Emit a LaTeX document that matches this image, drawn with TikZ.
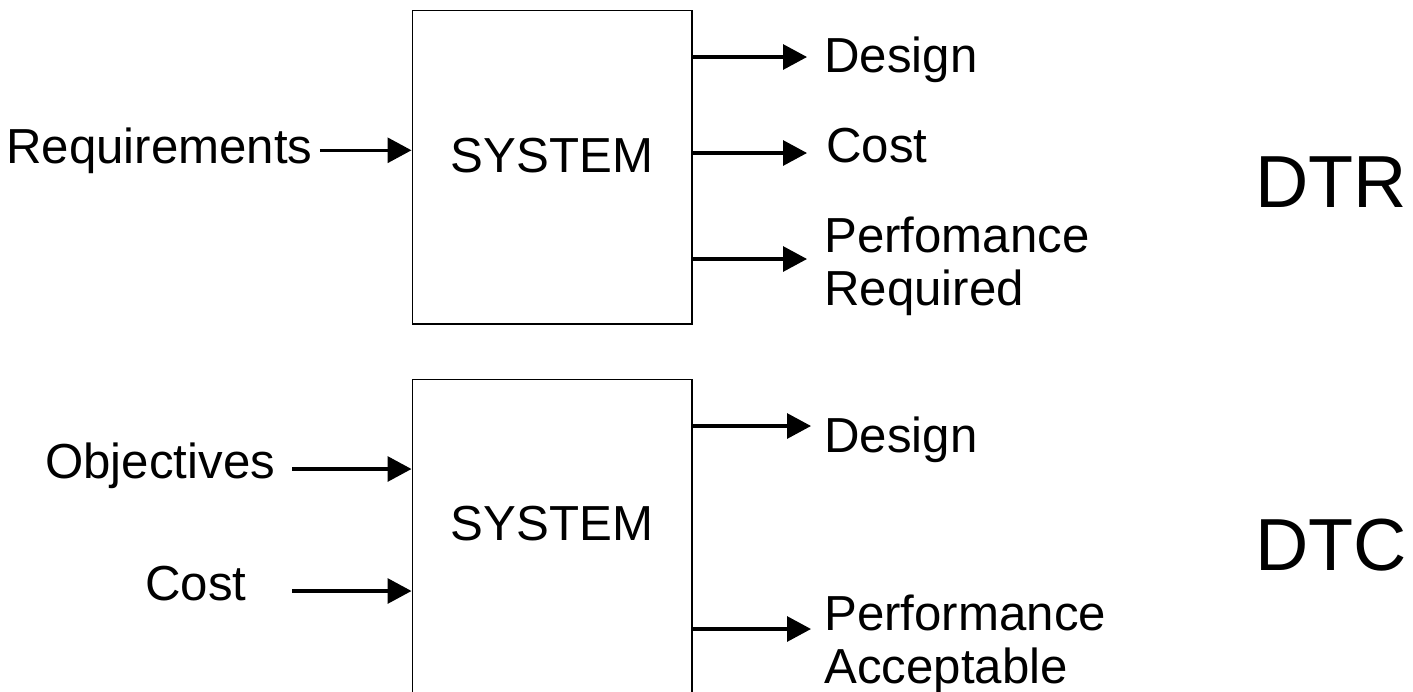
\documentclass[tikz,border=0pt]{standalone}
\usepackage{fontspec}
\setmainfont{Liberation Sans}
\usetikzlibrary{arrows.meta}

\tikzset{
  sysbox/.style={draw,line width=0.6pt,minimum width=5.6cm,minimum height=6.28cm,inner sep=0},
  lbl/.style={inner sep=0,font=\fontsize{28}{30}\selectfont},
  big/.style={inner sep=0,font=\fontsize{42}{48}\selectfont},
  arr/.style={line width=1.8pt,-{Triangle[length=0.48cm,width=0.5cm]}}
}

\begin{document}
\begin{tikzpicture}[x=0.02cm,y=-0.02cm]
        \useasboundingbox (0,0) rectangle (1413,691);
        \node[sysbox] (sys1) at (552,167) {};
        \node[sysbox] (sys2) at (552,536) {};
        \node[lbl,anchor=base] (name1) at ([yshift=-0.1cm]sys1.center) {SYSTEM};
        \node[lbl,anchor=base] (name2) at ([yshift=-0.08cm]sys2.center) {SYSTEM};

        %inputs
        \node[lbl,anchor=base west] (req) at (6,163) {Requirements};
        \node[lbl,anchor=base west] (obj) at (45,478) {Objectives};
        \node[lbl,anchor=base west] (costin) at (145,600) {Cost};
        \coordinate (objtail) at (292,469);
        \coordinate (costtail) at (292,591);
        \draw[arr] ([xshift=0.14cm]req.east) -- (req.east -| sys1.west);
        \draw[arr] (objtail) -- (objtail -| sys2.west);
        \draw[arr] (costtail) -- (costtail -| sys2.west);

        %outputs DTR
        \coordinate (dtip1) at (807,57);
        \coordinate (ctip1) at (807,153);
        \coordinate (ptip1) at (807,259);
        \draw[arr] (dtip1 -| sys1.east) -- (dtip1);
        \draw[arr] (ctip1 -| sys1.east) -- (ctip1);
        \draw[arr] (ptip1 -| sys1.east) -- (ptip1);
        \node[lbl,anchor=base west] (dsg1) at (824,72) {Design};
        \node[lbl,anchor=base west] (cst1) at (826,162) {Cost};
        \node[lbl,anchor=west,align=left] (prf1) at (824,266) {Perfomance\\Required};

        %outputs DTC
        \coordinate (dtip2) at (811,426);
        \coordinate (ptip2) at (811,629);
        \draw[arr] (dtip2 -| sys2.east) -- (dtip2);
        \draw[arr] (ptip2 -| sys2.east) -- (ptip2);
        \node[lbl,anchor=base west] (dsg2) at (824,452) {Design};
        \node[lbl,anchor=west,align=left] (prf2) at (824,644) {Performance\\Acceptable};

        \node[big,anchor=base west] (dtr) at (1255,207) {DTR};
        \node[big,anchor=base west] (dtc) at (1255,570) {DTC};
\end{tikzpicture}
\end{document}
